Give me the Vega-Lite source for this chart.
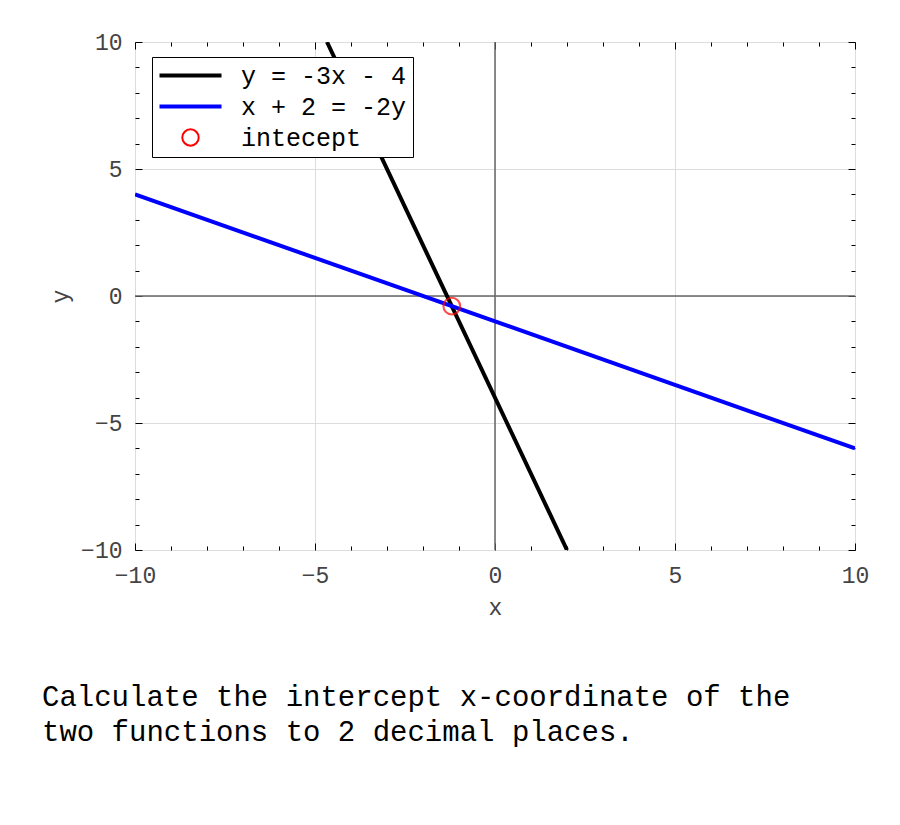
{
  "$schema": "https://vega.github.io/schema/vega-lite/v6.json",
  "width": 720,
  "height": 508,
  "autosize": "none",
  "padding": {"left": 135, "top": 42, "right": 45, "bottom": 275},
  "background": "white",
  "title": {
    "text": ["Calculate the intercept x-coordinate of the", "two functions to 2 decimal places."],
    "orient": "bottom",
    "anchor": "start",
    "frame": "group",
    "dx": -93,
    "offset": 64,
    "font": "Liberation Mono",
    "fontSize": 29,
    "fontWeight": "normal",
    "color": "black",
    "lineHeight": 35
  },
  "config": {
    "font": "Liberation Mono",
    "view": {"stroke": "black", "strokeWidth": 1},
    "axis": {
      "domain": false,
      "labelFont": "Liberation Mono",
      "labelFontSize": 23,
      "labelColor": "#444444",
      "titleFont": "Liberation Mono",
      "titleFontSize": 23,
      "titleFontWeight": "normal",
      "titleColor": "#444444",
      "tickColor": "black",
      "tickWidth": 1,
      "grid": false
    }
  },
  "resolve": {"axis": {"x": "independent", "y": "independent"}},
  "datasets": {
    "lines": [
      {"series": "y = -3x - 4", "x": -4.6667, "y": 10},
      {"series": "y = -3x - 4", "x": 2, "y": -10},
      {"series": "x + 2 = -2y", "x": -10, "y": 4},
      {"series": "x + 2 = -2y", "x": 10, "y": -6}
    ],
    "intercept": [
      {"series": "intecept", "x": -1.2, "y": -0.4}
    ]
  },
  "layer": [
    {
      "data": {"name": "intercept"},
      "mark": {"type": "rule", "color": "#666666", "strokeWidth": 1.5},
      "encoding": {
        "x": {
          "datum": 0,
          "type": "quantitative",
          "scale": {"domain": [-10, 10], "nice": false, "zero": false},
          "axis": {
            "orient": "bottom",
            "values": [-10, -5, 0, 5, 10],
            "grid": true,
            "gridColor": "#dddddd",
            "gridWidth": 1,
            "tickSize": -7,
            "labelPadding": 21,
            "labelFlush": false,
            "title": "x",
            "titlePadding": 9
          }
        }
      }
    },
    {
      "data": {"name": "intercept"},
      "mark": {"type": "rule", "color": "#666666", "strokeWidth": 1.5},
      "encoding": {
        "y": {
          "datum": 0,
          "type": "quantitative",
          "scale": {"domain": [-10, 10], "nice": false, "zero": false},
          "axis": {
            "orient": "left",
            "values": [-10, -5, 0, 5, 10],
            "grid": true,
            "gridColor": "#dddddd",
            "gridWidth": 1,
            "tickSize": -7,
            "labelPadding": 20,
            "labelFlush": false,
            "title": "y",
            "titlePadding": 8
          }
        }
      }
    },
    {
      "data": {"name": "lines"},
      "mark": {"type": "line", "strokeWidth": 4, "clip": true},
      "encoding": {
        "x": {
          "field": "x",
          "type": "quantitative",
          "scale": {"domain": [-10, 10], "nice": false, "zero": false},
          "axis": {
            "orient": "bottom",
            "values": [-9, -8, -7, -6, -4, -3, -2, -1, 1, 2, 3, 4, 6, 7, 8, 9],
            "tickSize": -4,
            "labels": false,
            "title": null
          }
        },
        "y": {
          "field": "y",
          "type": "quantitative",
          "scale": {"domain": [-10, 10], "nice": false, "zero": false},
          "axis": {
            "orient": "left",
            "values": [-9, -8, -7, -6, -4, -3, -2, -1, 1, 2, 3, 4, 6, 7, 8, 9],
            "tickSize": -4,
            "labels": false,
            "title": null
          }
        },
        "detail": {"field": "series"},
        "color": {
          "field": "series",
          "type": "nominal",
          "scale": {
            "domain": ["y = -3x - 4", "x + 2 = -2y", "intecept"],
            "range": ["black", "blue", "red"]
          },
          "legend": {
            "orient": "none",
            "legendX": 17,
            "legendY": 15,
            "title": null,
            "strokeColor": "black",
            "fillColor": "white",
            "padding": 6,
            "labelFont": "Liberation Mono",
            "labelFontSize": 25,
            "labelColor": "black",
            "labelLimit": 0,
            "symbolType": "stroke",
            "symbolStrokeWidth": 4,
            "rowPadding": 5,
            "labelOffset": 38,
            "symbolOffset": 20,
            "encode": {
              "symbols": {
                "update": {
                  "shape": {"signal": "datum.value === 'intecept' ? 'circle' : 'stroke'"},
                  "size": {"signal": "datum.value === 'intecept' ? 270 : 3844"},
                  "strokeWidth": {"signal": "datum.value === 'intecept' ? 2 : 4"},
                  "fill": {"value": "transparent"},
                  "fillOpacity": {"value": 0}
                }
              }
            }
          }
        }
      }
    },
    {
      "data": {"name": "intercept"},
      "mark": {"type": "point", "shape": "circle", "size": 280, "strokeWidth": 2, "filled": false},
      "encoding": {
        "x": {
          "field": "x",
          "type": "quantitative",
          "scale": {"domain": [-10, 10], "nice": false, "zero": false},
          "axis": {
            "orient": "top",
            "values": [-10, -5, 0, 5, 10],
            "tickSize": -7,
            "labels": false,
            "title": null
          }
        },
        "y": {
          "field": "y",
          "type": "quantitative",
          "scale": {"domain": [-10, 10], "nice": false, "zero": false},
          "axis": {
            "orient": "right",
            "values": [-10, -5, 0, 5, 10],
            "tickSize": -7,
            "labels": false,
            "title": null
          }
        },
        "color": {"field": "series", "type": "nominal"}
      }
    },
    {
      "data": {"name": "intercept"},
      "mark": {"type": "point", "opacity": 0},
      "encoding": {
        "x": {
          "field": "x",
          "type": "quantitative",
          "scale": {"domain": [-10, 10], "nice": false, "zero": false},
          "axis": {
            "orient": "top",
            "values": [-9, -8, -7, -6, -4, -3, -2, -1, 1, 2, 3, 4, 6, 7, 8, 9],
            "tickSize": -4,
            "labels": false,
            "title": null
          }
        },
        "y": {
          "field": "y",
          "type": "quantitative",
          "scale": {"domain": [-10, 10], "nice": false, "zero": false},
          "axis": {
            "orient": "right",
            "values": [-9, -8, -7, -6, -4, -3, -2, -1, 1, 2, 3, 4, 6, 7, 8, 9],
            "tickSize": -4,
            "labels": false,
            "title": null
          }
        }
      }
    }
  ]
}
